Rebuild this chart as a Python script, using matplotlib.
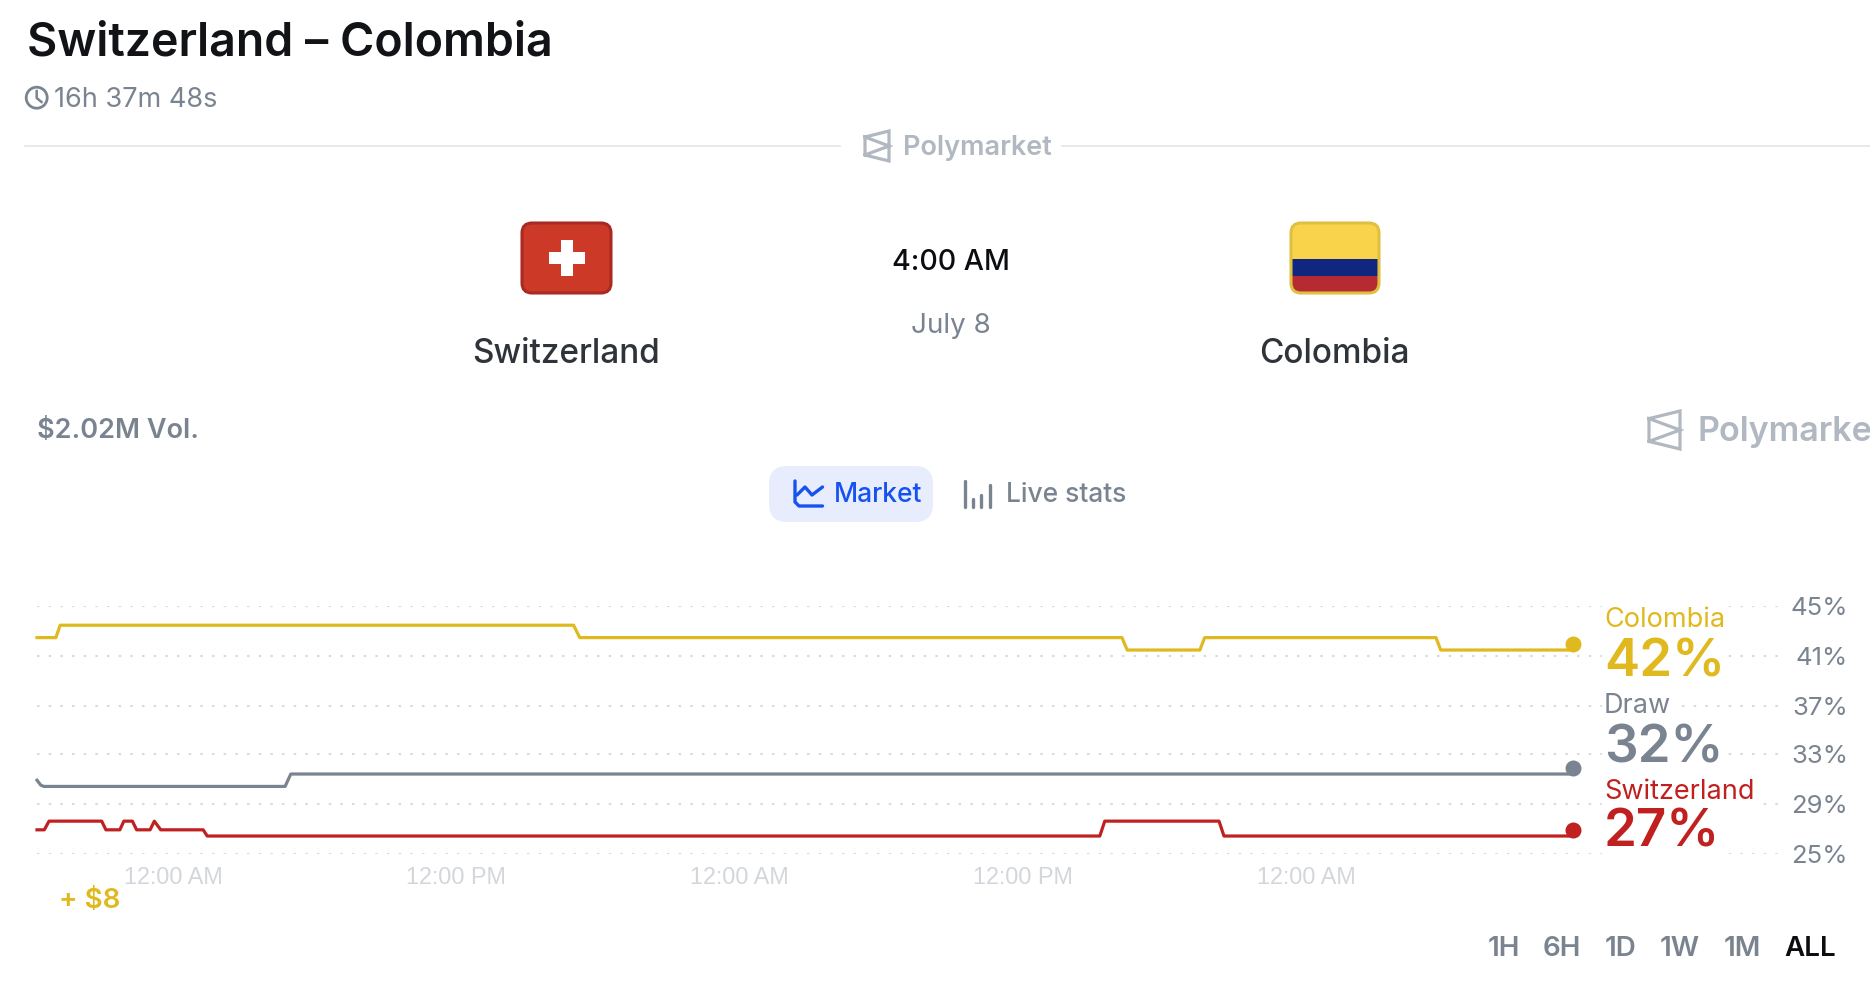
import matplotlib
matplotlib.use('Agg')
import matplotlib.pyplot as plt
from matplotlib.patches import FancyBboxPatch, Rectangle, Circle
from matplotlib.transforms import ScaledTranslation

plt.rcParams['font.family'] = ['Inter', 'DejaVu Sans']

# hours relative to the first midnight, odds in percent
colombia_t = [-5.76, -4.96, -4.78, 16.97, 17.23, 40.2, 40.42, 43.5, 43.7, 53.5, 53.7, 59.3]
colombia_v = [43, 43, 44, 44, 43, 43, 42, 42, 43, 43, 42, 42]
draw_t = [-5.76, -5.6, -5.47, 4.75, 4.99, 59.3]
draw_v = [31.5, 31.1, 31, 31, 32, 32]
swiss_t = [-5.76, -5.45, -5.25, -3.02, -2.84, -2.25, -2.08, -1.72, -1.54, -0.97, -0.79, -0.52,
           1.28, 1.45, 39.26, 39.47, 44.31, 44.52, 59.3]
swiss_v = [27.5, 27.5, 28.2, 28.2, 27.5, 27.5, 28.2, 28.2, 27.5, 27.5, 28.2, 27.5,
           27.5, 27, 27, 28.2, 28.2, 27, 27]

y_ticks = [45.55, 41.52, 37.48, 33.6, 29.58, 25.55]
y_labels = ['45%', '41%', '37%', '33%', '29%', '25%']
x_ticks = [0, 12, 24, 36, 48]
x_labels = ['12:00 AM', '12:00 PM', '12:00 AM', '12:00 PM', '12:00 AM']
ranges = ['1H', '6H', '1D', '1W', '1M', 'ALL']

YELLOW = '#e0b91f'
GREY = '#7a8491'
RED = '#c0201f'
LOGO = '#b1b8c1'

W, H = 1870, 996
fig = plt.figure(figsize=(W / 100, H / 100), dpi=100)

# page furniture is laid out in pixels on a full-figure axes
ui = fig.add_axes([0, 0, 1, 1])
ui.set(xlim=(0, W), ylim=(H, 0))
ui.axis('off')


def logo(x0, y0, x1, y1):
    w, h = x1 - x0, y1 - y0
    pts = [(0, .2), (1, 0), (1, 1), (0, .8), (0, .2), (1, .5), (0, .8)]
    ui.plot([x0 + p[0] * w for p in pts], [y0 + p[1] * h for p in pts], color=LOGO,
            lw=2.3, solid_joinstyle='miter')


def flag(x0, y0, x1, y1, edge):
    box = FancyBboxPatch((x0, y0), x1 - x0, y1 - y0, boxstyle='round,pad=0,rounding_size=10',
                         fc='none', ec=edge, lw=2.2, zorder=4)
    ui.add_patch(box)
    return box


# header
ui.text(27, 55, 'Switzerland – Colombia', fontsize=33.5, weight='semibold', color='#111317')
ui.add_patch(Circle((36.7, 97.7), 10.5, fc='none', ec=GREY, lw=2))
ui.plot([36.7, 36.7, 41.5], [91, 98, 102], color=GREY, lw=1.8)
ui.text(54, 106.7, '16h 37m 48s', fontsize=19.5, color=GREY)
ui.plot([25, 840], [145.5, 145.5], color='#e6e7ea', lw=1.3)
ui.plot([1062, W], [145.5, 145.5], color='#e6e7ea', lw=1.3)
logo(865, 131, 889, 161)
ui.text(903, 155, 'Polymarket', fontsize=19.5, weight='semibold', color=LOGO)

# teams
sw = flag(522, 223, 611, 293, '#a82a22')
sw.set_facecolor('#cc3a27')
ui.add_patch(Rectangle((561, 240), 12, 36, fc='white', ec='none', zorder=5))
ui.add_patch(Rectangle((549, 252), 36, 12, fc='white', ec='none', zorder=5))
co = flag(1291, 223, 1379, 293, '#e0c040')
for y0, y1, c in [(222, 258.5, '#f9d44a'), (258.5, 276, '#10267f'), (276, 294, '#b62a32')]:
    band = Rectangle((1290, y0), 90, y1 - y0, fc=c, ec='none', zorder=3)
    ui.add_patch(band)
    band.set_clip_path(FancyBboxPatch((1290, 222), 90, 72, boxstyle='round,pad=0,rounding_size=11',
                                      transform=ui.transData))
ui.text(566.5, 354, 'Switzerland', fontsize=24, weight='medium', color='#2f333a', ha='center', va='center')
ui.text(1334.5, 354, 'Colombia', fontsize=24, weight='medium', color='#2f333a', ha='center', va='center')
ui.text(950.5, 262, '4:00 AM', fontsize=20.5, weight='medium', color='#0b0d10', ha='center', va='center')
ui.text(950.5, 326, 'July 8', fontsize=20, color=GREY, ha='center', va='center')

ui.text(37, 438, '$2.02M Vol.', fontsize=19.5, weight='semibold', color=GREY)
logo(1649, 411, 1680, 449)
ui.text(1697, 441, 'Polymarket', fontsize=24.5, weight='semibold', color=LOGO)

# tabs
ui.add_patch(FancyBboxPatch((769, 466), 164, 56, boxstyle='round,pad=0,rounding_size=18',
                            fc='#e8edfd', ec='none'))
ui.plot([795, 795, 799, 822.5], [481, 502, 506, 506], color='#1652f0', lw=2.4, solid_capstyle='round')
ui.plot([797, 805, 812, 822.5], [495, 487, 495, 487], color='#1652f0', lw=2.4, solid_capstyle='round')
ui.text(834, 501.5, 'Market', fontsize=19, weight='medium', color='#1652f0')
for bx, by in [(964.7, 481), (972.5, 499), (980.7, 495), (990, 485)]:
    ui.plot([bx, bx], [by, 507], color=GREY, lw=2.4, solid_capstyle='round')
ui.text(1006, 501.5, 'Live stats', fontsize=19, weight='medium', color=GREY)

# price chart, 37..1783 px wide and 606..854 px tall
ax = fig.add_axes([37 / W, 1 - 854 / H, (1783 - 37) / W, (854 - 606) / H], facecolor='none')
ax.set(xlim=(-5.76, 68.2), ylim=(25.55, 45.55))
for side in ax.spines.values():
    side.set_visible(False)
ax.set_yticks(y_ticks, y_labels)
ax.yaxis.tick_right()
ax.tick_params(axis='y', length=0, pad=46.8, labelcolor=GREY, labelsize=18.5)
for lab in ax.get_yticklabels():
    lab.set_ha('right')
    lab.set_va('center_baseline')
ax.set_xticks(x_ticks, x_labels, family='Liberation Sans')
ax.tick_params(axis='x', length=0, pad=8.5, labelcolor='#d3d6db', labelsize=16.8)
ax.grid(axis='y', color='#d8dadd', lw=1.5, linestyle=(0, (1.2, 4.4)))
ax.set_axisbelow(True)

dot_shift = ScaledTranslation(0, 6.5 / 100, fig.dpi_scale_trans)
series = [(colombia_t, colombia_v, YELLOW), (draw_t, draw_v, GREY), (swiss_t, swiss_v, RED)]
for t, v, c in series:
    ax.plot(t, v, color=c, lw=2.3, solid_joinstyle='round', clip_on=False)
    ax.plot(t[-1], v[-1], 'o', color=c, ms=11.5, mew=0, clip_on=False,
            transform=ax.transData + dot_shift)

# end-of-line labels blank out the grid behind them
end_labels = [('Colombia', colombia_v[-1], YELLOW, 627, 676), ('Draw', draw_v[-1], GREY, 713, 762),
              ('Switzerland', swiss_v[-1], RED, 799, 846)]
for name, val, c, y_name, y_val in end_labels:
    box = dict(fc='white', ec='none', pad=1.5)
    ax.annotate(name, (1604, y_name), xycoords=ui.transData, fontsize=19.5, color=c, bbox=box, zorder=6)
    ax.annotate(f'{val:.0f}%', (1604, y_val), xycoords=ui.transData, fontsize=38, weight='semibold',
                color=c, bbox=box, zorder=6)

ui.text(59, 908, '+ $8', fontsize=20, weight='semibold', color=YELLOW)

# range selector
for label, x in zip(ranges, [1504, 1562, 1621, 1680, 1742, 1810]):
    ui.text(x, 949, label, fontsize=20, weight='semibold', ha='center', va='center',
            color='#0b0d10' if label == 'ALL' else GREY)

fig.savefig('out.png', dpi=100)
